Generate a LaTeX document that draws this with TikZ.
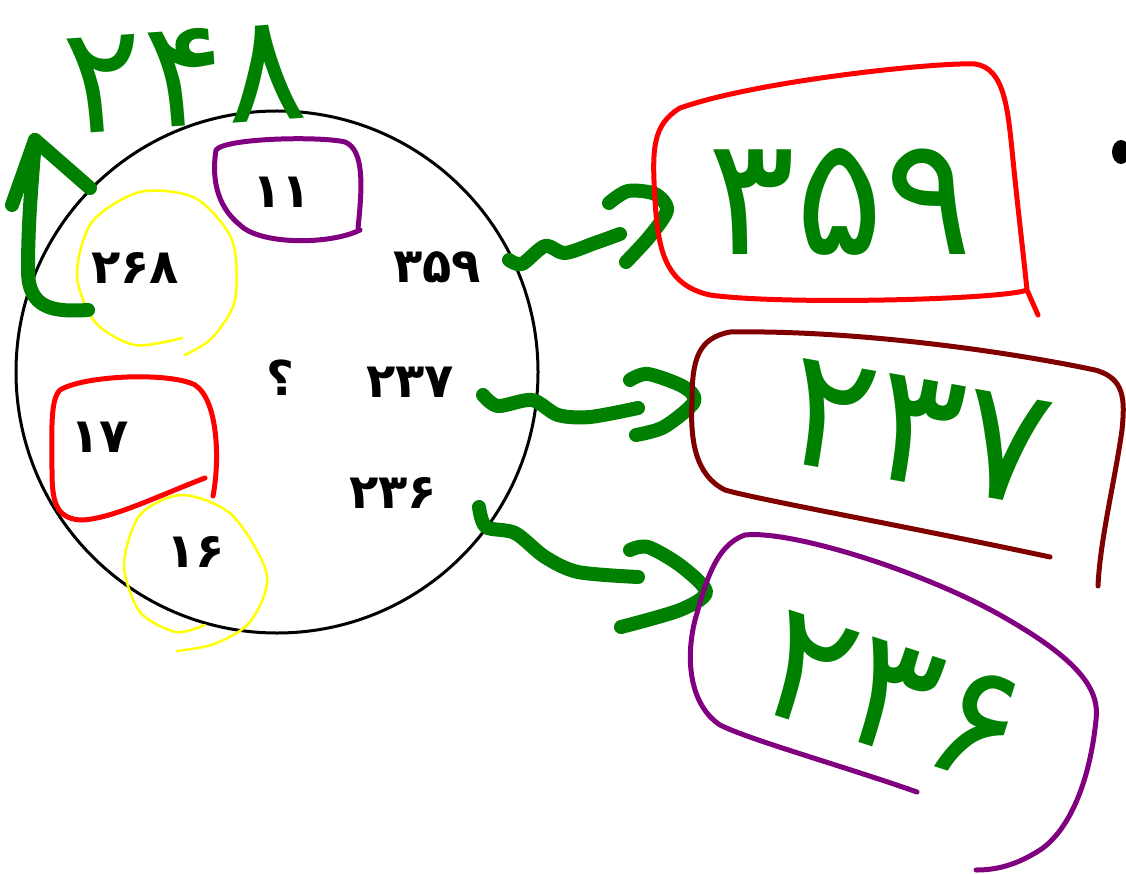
\documentclass[tikz,border=0pt]{standalone}
\usepackage{fontspec}
\newfontfamily\fa[Script=Arabic]{DejaVu Sans}
\definecolor{hgreen}{HTML}{008000}
\definecolor{hred}{HTML}{FF0000}
\definecolor{hmaroon}{HTML}{800000}
\definecolor{hpurple}{HTML}{800080}
\definecolor{hyellow}{HTML}{FFFF00}
\begin{document}
\begin{tikzpicture}[x=1pt,y=-1pt,
  pen/.style={line width=14pt, draw=hgreen, line cap=round, line join=round},
  boxline/.style={line width=5pt, line cap=round, line join=round},
  ring/.style={line width=2.5pt, draw=hyellow, line cap=round},
  num/.style={font=\fa\bfseries\fontsize{48}{48}\selectfont, inner sep=0pt},
  big/.style={font=\fa\fontsize{165}{165}\selectfont, text=hgreen, inner sep=0pt}]
\useasboundingbox[fill=white] (0,0) rectangle (1126,874);

% main circle
\node[circle, draw, line width=3pt, minimum size=522pt] (c) at (277,372) {};

% printed numbers
\node[num] (n11)  at (282,192) {۱۱};
\node[num] (n268) at (135,268) {۲۶۸};
\node[num] (n359) at (437,267) {۳۵۹};
\node[num] (nq)   at (280,378) {؟};
\node[num] (n237) at (410,382) {۲۳۷};
\node[num] (n17)  at (100,437) {۱۷};
\node[num] (n236) at (393,493) {۲۳۶};
\node[num] (n16)  at (196,552) {۱۶};

% purple box around 11
\draw[boxline, hpurple] (360,230) .. controls (330,245) and (260,245) .. (240,225)
  .. controls (215,205) and (212,175) .. (216,150)
  .. controls (225,138) and (320,136) .. (345,142)
  .. controls (365,150) and (362,190) .. (358,228);

% yellow rings
\draw[ring] plot[smooth] coordinates {(182,338) (135,345) (95,322) (77,275) (92,222) (140,192) (195,198) (232,240) (235,300) (212,338) (185,355)};
\draw[ring] plot[smooth] coordinates {(205,625) (176,632) (140,612) (124,565) (140,515) (182,495) (232,515) (267,575) (250,622) (214,644) (177,651)};

% red box around 17
\draw[boxline, hred] (205,478) .. controls (160,495) and (110,520) .. (80,520)
  .. controls (55,518) and (52,500) .. (52,470)
  .. controls (52,430) and (50,400) .. (60,390)
  .. controls (85,375) and (170,372) .. (195,385)
  .. controls (218,400) and (220,460) .. (213,496);

% top-left green arrow and label
\draw[pen] (88,310) .. controls (55,312) and (28,310) .. (28,270)
  .. controls (28,220) and (32,180) .. (35,140);
\draw[pen] (12,205) -- (35,140) -- (90,188);
\node[big, font=\fa\fontsize{150}{150}\selectfont, rotate=4] (t248) at (185,78) {۲۴۸};

% arrow to 359
\draw[pen] plot[smooth] coordinates {(509,260) (522,264) (545,246) (565,253) (595,243) (620,234)};
\draw[pen] plot[smooth] coordinates {(609,203) (628,191) (655,194) (667,210) (650,236) (626,262)};
\node[big] (b359) at (840,202) {۳۵۹};
\draw[boxline, hred] (1038,315) -- (1027,290)
  .. controls (1000,300) and (780,305) .. (710,295)
  .. controls (665,285) and (658,250) .. (655,200)
  .. controls (652,150) and (652,125) .. (680,108)
  .. controls (760,80) and (940,62) .. (975,64)
  .. controls (1005,68) and (1008,110) .. (1013,160)
  .. controls (1018,210) and (1024,260) .. (1027,290);

% arrow to 237
\draw[pen] plot[smooth] coordinates {(483,395) (498,406) (532,400) (558,415) (590,417) (638,408)};
\draw[pen] plot[smooth] coordinates {(630,380) (648,374) (684,387) (694,402) (664,427) (636,435)};
\node[big, rotate=-10] (b237) at (918,432) {۲۳۷};
\draw[boxline, hmaroon] (1050,557) .. controls (900,525) and (760,500) .. (725,490)
  .. controls (695,475) and (690,440) .. (692,400)
  .. controls (692,360) and (698,338) .. (730,332)
  .. controls (850,330) and (1000,350) .. (1095,370)
  .. controls (1125,378) and (1125,400) .. (1122,430)
  .. controls (1115,480) and (1100,540) .. (1098,586);

% arrow to 236
\draw[pen] plot[smooth] coordinates {(479,507) (486,527) (515,533) (545,557) (578,572) (638,577)};
\draw[pen] plot[smooth] coordinates {(630,550) (648,547) (681,566) (706,592) (680,610) (621,627)};
\node[big, rotate=-18] (b236) at (893,698) {۲۳۶};
\draw[boxline, hpurple] (917,792) .. controls (840,765) and (750,740) .. (720,725)
  .. controls (690,705) and (685,660) .. (695,620)
  .. controls (705,585) and (715,545) .. (745,535)
  .. controls (790,530) and (920,570) .. (1000,615)
  .. controls (1080,660) and (1100,690) .. (1096,720)
  .. controls (1090,780) and (1070,830) .. (1040,850)
  .. controls (1015,866) and (995,870) .. (976,870);

% partial black mark at right edge
\fill (1121,152) ellipse [x radius=9, y radius=12];
\end{tikzpicture}
\end{document}
